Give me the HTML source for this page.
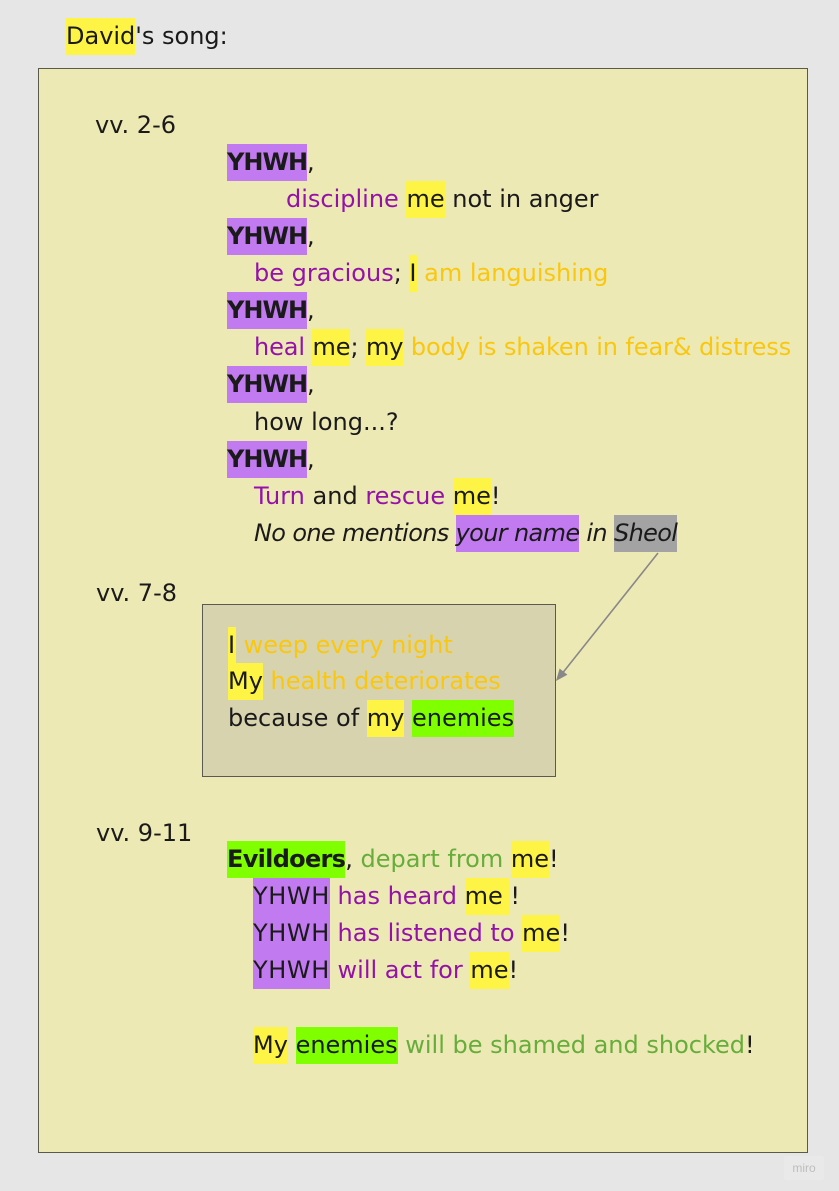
<!DOCTYPE html>
<html>
<head>
<meta charset="utf-8">
<style>
  html, body { margin:0; padding:0; }
  body { width:839px; height:1191px; background:#e6e6e6; position:relative; overflow:hidden;
         font-family:"DejaVu Sans","Liberation Sans",sans-serif; font-size:24px; color:#1a1a1a; }
  .frame { position:absolute; left:38px; top:68px; width:770px; height:1085px; box-sizing:border-box;
           background:#ede9b5; border:1px solid #5a5a4a; }
  .inner { position:absolute; left:202px; top:604px; width:354px; height:173px; box-sizing:border-box;
           background:#d7d3ae; border:1px solid #5a5a50; }
  .ln { position:absolute; height:37px; line-height:37px; white-space:nowrap; }
  .ln span { display:inline-block; height:37px; vertical-align:top; }
  .y { background:#fef445; color:#1a1a1a; }
  .v { background:#c17af0; color:#1a1a1a; }
  .g { background:#80ff00; color:#1a1a1a; }
  .gr { background:#a3a3a3; color:#1a1a1a; }
  .b { font-weight:bold; letter-spacing:-1px; }
  .p { color:#9512a8; }
  .o { color:#fac710; }
  .gt { color:#67ad3b; }
  .it { font-style:italic; }
  .miro { position:absolute; left:784px; top:1156px; width:40px; height:24px; background:#e9e9e9;
          border-radius:3px; color:#bdbdbd; font-family:"Liberation Sans",sans-serif; font-size:12px;
          line-height:24px; text-align:center; }
</style>
</head>
<body>
<div class="frame"></div>

<div class="ln" style="left:66px;top:18px;"><span class="y">David</span>'s song:</div>

<div class="ln" style="left:95px;top:107px;">vv. 2-6</div>

<div class="ln" style="left:227px;top:144px;"><span class="v b">YHWH</span>,</div>
<div class="ln" style="left:286px;top:181px;"><span class="p" style="display:inline;">discipline</span> <span class="y">me</span> not in anger</div>
<div class="ln" style="left:227px;top:218px;"><span class="v b">YHWH</span>,</div>
<div class="ln" style="left:254px;top:255px;"><span class="p" style="display:inline;">be gracious</span>; <span class="y">I</span><span class="o" style="display:inline;"> am languishing</span></div>
<div class="ln" style="left:227px;top:292px;"><span class="v b">YHWH</span>,</div>
<div class="ln" style="left:254px;top:329px;letter-spacing:-0.1px;"><span class="p" style="display:inline;">heal</span> <span class="y">me</span>; <span class="y">my</span><span class="o" style="display:inline;"> body is shaken in fear&amp; distress</span></div>
<div class="ln" style="left:227px;top:366px;"><span class="v b">YHWH</span>,</div>
<div class="ln" style="left:254px;top:404px;">how long...?</div>
<div class="ln" style="left:227px;top:441px;"><span class="v b">YHWH</span>,</div>
<div class="ln" style="left:254px;top:478px;"><span class="p" style="display:inline;">Turn</span> and <span class="p" style="display:inline;">rescue</span> <span class="y">me</span>!</div>
<div class="ln it" style="left:254px;top:515px;letter-spacing:-0.65px;">No one mentions <span class="v">your name</span> in <span class="gr">Sheol</span></div>

<div class="ln" style="left:96px;top:575px;">vv. 7-8</div>

<div class="inner"></div>
<div class="ln" style="left:228px;top:627px;"><span class="y" style="width:8px;">I</span><span class="o" style="display:inline;"> weep every night</span></div>
<div class="ln" style="left:228px;top:663px;"><span class="y">My</span><span class="o" style="display:inline;"> health deteriorates</span></div>
<div class="ln" style="left:228px;top:700px;">because of <span class="y">my</span> <span class="g">enemies</span></div>

<div class="ln" style="left:96px;top:815px;">vv. 9-11</div>

<div class="ln" style="left:227px;top:841px;"><span class="g b" style="letter-spacing:-0.7px;">Evildoers</span>, <span class="gt" style="display:inline;">depart from</span> <span class="y">me</span>!</div>
<div class="ln" style="left:253px;top:878px;"><span class="v" style="letter-spacing:0.6px;">YHWH</span><span class="p" style="display:inline;"> has heard</span> <span class="y">me&nbsp;</span>!</div>
<div class="ln" style="left:253px;top:915px;"><span class="v" style="letter-spacing:0.6px;">YHWH</span><span class="p" style="display:inline;"> has listened to</span> <span class="y">me</span>!</div>
<div class="ln" style="left:253px;top:952px;"><span class="v" style="letter-spacing:0.6px;">YHWH</span><span class="p" style="display:inline;"> will act for</span> <span class="y">me</span>!</div>

<div class="ln" style="left:253px;top:1027px;"><span class="y">My</span> <span class="g">enemies</span><span class="gt" style="display:inline;"> will be shamed and shocked</span>!</div>

<svg style="position:absolute;left:0;top:0;" width="839" height="1191">
  <line x1="658" y1="553" x2="561" y2="675" stroke="#888888" stroke-width="1.6"/>
  <polygon points="556,681 567.4,674.7 559.6,668.5" fill="#888888"/>
</svg>

<div class="miro">miro</div>
</body>
</html>
